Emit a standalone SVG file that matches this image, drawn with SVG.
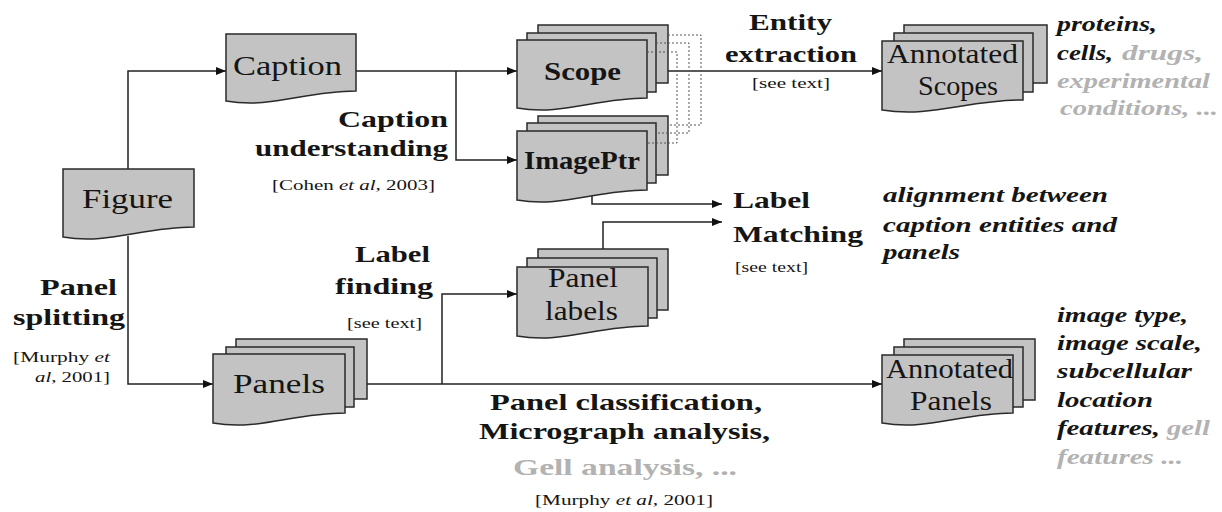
<svg xmlns="http://www.w3.org/2000/svg" width="1222" height="512" viewBox="0 0 1222 512" font-family="'Liberation Serif', 'Times New Roman', 'DejaVu Serif', serif">
<style>
.card{fill:#c3c3c3;stroke:#2a2a2a;stroke-width:1.5}
text{fill:#151515;font-family:'Liberation Serif','Times New Roman','DejaVu Serif',serif}
.nt{font-size:28px}
.nbd{font-size:26px;font-weight:bold}
.lb{font-size:24px;font-weight:bold}
.ref{font-size:15px}
.it{font-size:22px;font-weight:bold;font-style:italic}
.gray{fill:#b2b2b2}
.conn{fill:none;stroke:#222;stroke-width:1.5}
.dot{fill:none;stroke:#555;stroke-width:1;stroke-dasharray:2,2}
</style>
<defs>
<marker id="arr" viewBox="0 0 10 8" refX="10" refY="4" markerWidth="10" markerHeight="8" markerUnits="userSpaceOnUse" orient="auto">
<path d="M0,0 L10,4 L0,8 z" fill="#111"/>
</marker>
</defs>
<rect width="1222" height="512" fill="#fff"/>

<g id="connectors">
<path class="conn" d="M128,169 V71 H226" marker-end="url(#arr)"/>
<path class="conn" d="M128,236 V384 H213" marker-end="url(#arr)"/>
<path class="conn" d="M356,71 H517" marker-end="url(#arr)"/>
<path class="conn" d="M456,71 V160 H517" marker-end="url(#arr)"/>
<path class="conn" d="M668,71 H882" marker-end="url(#arr)"/>
<path class="conn" d="M367,384 H882" marker-end="url(#arr)"/>
<path class="conn" d="M442,384 V294 H517" marker-end="url(#arr)"/>
<path class="conn" d="M592,196 V204 H722" marker-end="url(#arr)"/>
<path class="conn" d="M603,249 V222 H722" marker-end="url(#arr)"/>
</g>

<g id="figure">
<path class="card" d="M63,169 H194 V227 C141.6,227 108.9,245 63,237 Z"/>
<text class="nt" x="82" y="208" textLength="91" lengthAdjust="spacingAndGlyphs">Figure</text>
</g>

<g id="caption">
<path class="card" d="M226,34 H356 V91 C304,91 271.5,109 226,101 Z"/>
<text class="nt" x="233" y="75" textLength="109" lengthAdjust="spacingAndGlyphs">Caption</text>
</g>

<g id="imageptr">
<rect class="card" x="538" y="116" width="130" height="59"/>
<rect class="card" x="527" y="123" width="129" height="60"/>
<path class="card" d="M517,131 H647 V190 C595,190 562.5,208 517,200 Z"/>
<text class="nbd" x="524" y="169" textLength="116" lengthAdjust="spacingAndGlyphs">ImagePtr</text>
</g>

<g id="scope">
<rect class="card" x="538" y="25" width="130" height="58"/>
<rect class="card" x="527" y="33" width="129" height="59"/>
<path class="card" d="M517,40 H647 V98 C595,98 562.5,116 517,108 Z"/>
<text class="nbd" x="544" y="80" textLength="77" lengthAdjust="spacingAndGlyphs">Scope</text>
</g>

<g id="scope-links">
<path class="dot" d="M668,35 H701 V125 H668"/>
<path class="dot" d="M656,43 H689 V133 H656"/>
<path class="dot" d="M647,52 H677 V143 H647"/>
</g>

<g id="annotated-scopes">
<rect class="card" x="904" y="25" width="143" height="58"/>
<rect class="card" x="894" y="33" width="139" height="59"/>
<path class="card" d="M882,41 H1023 V100 C966.6,100 931.4,118 882,110 Z"/>
<text class="nt" x="887" y="63" textLength="131" lengthAdjust="spacingAndGlyphs">Annotated</text>
<text class="nt" x="918" y="95" textLength="80" lengthAdjust="spacingAndGlyphs">Scopes</text>
</g>

<g id="panel-labels">
<rect class="card" x="538" y="249" width="130" height="61"/>
<rect class="card" x="527" y="258" width="130" height="60"/>
<path class="card" d="M517,267 H648 V326 C595.6,326 562.9,344 517,336 Z"/>
<text class="nt" x="548" y="287" textLength="70" lengthAdjust="spacingAndGlyphs">Panel</text>
<text class="nt" x="545" y="320" textLength="73" lengthAdjust="spacingAndGlyphs">labels</text>
</g>

<g id="panels">
<rect class="card" x="236" y="339" width="131" height="60"/>
<rect class="card" x="226" y="347" width="128" height="60"/>
<path class="card" d="M213,354 H345 V413 C292.2,413 259.2,431 213,423 Z"/>
<text class="nt" x="233" y="393" textLength="92" lengthAdjust="spacingAndGlyphs">Panels</text>
</g>

<g id="annotated-panels">
<rect class="card" x="904" y="339" width="131" height="61"/>
<rect class="card" x="894" y="347" width="129" height="60"/>
<path class="card" d="M882,355 H1013 V413 C960.6,413 927.9,431 882,423 Z"/>
<text class="nt" x="886" y="378" textLength="127" lengthAdjust="spacingAndGlyphs">Annotated</text>
<text class="nt" x="910" y="410" textLength="82" lengthAdjust="spacingAndGlyphs">Panels</text>
</g>

<g id="labels">
<text class="lb" x="749" y="30" textLength="83" lengthAdjust="spacingAndGlyphs">Entity</text>
<text class="lb" x="725" y="62" textLength="132" lengthAdjust="spacingAndGlyphs">extraction</text>
<text class="ref" x="752" y="88" textLength="78" lengthAdjust="spacingAndGlyphs">[see text]</text>

<text class="lb" x="338" y="127" textLength="110" lengthAdjust="spacingAndGlyphs">Caption</text>
<text class="lb" x="255" y="156" textLength="193" lengthAdjust="spacingAndGlyphs">understanding</text>
<text class="ref" x="272" y="190" textLength="163" lengthAdjust="spacingAndGlyphs">[Cohen <tspan font-style="italic">et al</tspan>, 2003]</text>

<text class="lb" x="355" y="262" textLength="75" lengthAdjust="spacingAndGlyphs">Label</text>
<text class="lb" x="335" y="294" textLength="98" lengthAdjust="spacingAndGlyphs">finding</text>
<text class="ref" x="347" y="328" textLength="75" lengthAdjust="spacingAndGlyphs">[see text]</text>

<text class="lb" x="40" y="295" textLength="77" lengthAdjust="spacingAndGlyphs">Panel</text>
<text class="lb" x="13" y="325" textLength="112" lengthAdjust="spacingAndGlyphs">splitting</text>
<text class="ref" x="13" y="362" textLength="97" lengthAdjust="spacingAndGlyphs">[Murphy <tspan font-style="italic">et</tspan></text>
<text class="ref" x="35" y="382" textLength="75" lengthAdjust="spacingAndGlyphs"><tspan font-style="italic">al</tspan>, 2001]</text>

<text class="lb" x="733" y="208" textLength="77" lengthAdjust="spacingAndGlyphs">Label</text>
<text class="lb" x="733" y="242" textLength="130" lengthAdjust="spacingAndGlyphs">Matching</text>
<text class="ref" x="735" y="272" textLength="73" lengthAdjust="spacingAndGlyphs">[see text]</text>

<text class="lb" x="490" y="410" textLength="272" lengthAdjust="spacingAndGlyphs">Panel classification,</text>
<text class="lb" x="479" y="439" textLength="291" lengthAdjust="spacingAndGlyphs">Micrograph analysis,</text>
<text class="lb gray" x="513" y="475" textLength="224" lengthAdjust="spacingAndGlyphs">Gell analysis, ...</text>
<text class="ref" x="535" y="505" textLength="178" lengthAdjust="spacingAndGlyphs">[Murphy <tspan font-style="italic">et al</tspan>, 2001]</text>
</g>

<g id="annotations">
<text class="it" x="1057" y="31" textLength="100" lengthAdjust="spacingAndGlyphs">proteins,</text>
<text class="it" x="1057" y="60" textLength="56" lengthAdjust="spacingAndGlyphs">cells,</text>
<text class="it gray" x="1122" y="60" textLength="81" lengthAdjust="spacingAndGlyphs">drugs,</text>
<text class="it gray" x="1057" y="88" textLength="153" lengthAdjust="spacingAndGlyphs">experimental</text>
<text class="it gray" x="1060" y="115" textLength="158" lengthAdjust="spacingAndGlyphs">conditions, ...</text>

<text class="it" x="883" y="202" textLength="225" lengthAdjust="spacingAndGlyphs">alignment between</text>
<text class="it" x="883" y="232" textLength="234" lengthAdjust="spacingAndGlyphs">caption entities and</text>
<text class="it" x="883" y="259" textLength="77" lengthAdjust="spacingAndGlyphs">panels</text>

<text class="it" x="1057" y="322" textLength="131" lengthAdjust="spacingAndGlyphs">image type,</text>
<text class="it" x="1057" y="350" textLength="145" lengthAdjust="spacingAndGlyphs">image scale,</text>
<text class="it" x="1057" y="378" textLength="135" lengthAdjust="spacingAndGlyphs">subcellular</text>
<text class="it" x="1057" y="407" textLength="96" lengthAdjust="spacingAndGlyphs">location</text>
<text class="it" x="1057" y="435" textLength="103" lengthAdjust="spacingAndGlyphs">features,</text>
<text class="it gray" x="1167" y="435" textLength="43" lengthAdjust="spacingAndGlyphs">gell</text>
<text class="it gray" x="1057" y="464" textLength="126" lengthAdjust="spacingAndGlyphs">features ...</text>
</g>
</svg>
